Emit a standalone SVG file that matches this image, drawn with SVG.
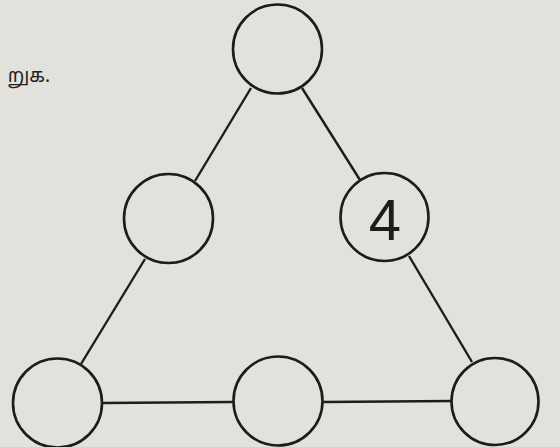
<svg xmlns="http://www.w3.org/2000/svg" width="560" height="447" viewBox="0 0 560 447">
<style>
.n{fill:none;stroke:#1c1c1c;stroke-width:2.6}
.c line{stroke:#1c1c1c;stroke-width:2.4}
.lbl{font-family:"Liberation Sans","DejaVu Sans",sans-serif;font-size:58px;fill:#1c1c1c}
.t{font-family:"Noto Sans Tamil","Noto Sans","DejaVu Sans",sans-serif;font-size:19px;fill:#222}
</style>
<rect width="560" height="447" fill="#e3e1dc"/>
<text class="t" x="50" y="82" text-anchor="end">றுக.</text>
<g id="connectors" class="c">
<line x1="251" y1="88" x2="195" y2="181"/>
<line x1="145" y1="259" x2="81" y2="364"/>
<line x1="302" y1="88" x2="360" y2="180"/>
<line x1="409" y1="256" x2="472" y2="362"/>
<line x1="102" y1="403" x2="233" y2="402"/>
<line x1="323" y1="402" x2="452" y2="401"/>
</g>
<g id="top"><circle class="n" cx="277.5" cy="49" r="44.5"/></g>
<g id="midLeft"><circle class="n" cx="168.5" cy="218.5" r="44.5"/></g>
<g id="midRight"><circle class="n" cx="384.5" cy="217" r="44"/><text class="lbl" x="385" y="240" text-anchor="middle">4</text></g>
<g id="bottomLeft"><circle class="n" cx="57.5" cy="403" r="44.5"/></g>
<g id="bottomMid"><circle class="n" cx="278" cy="401" r="44.5"/></g>
<g id="bottomRight"><circle class="n" cx="495" cy="401.5" r="43.5"/></g>
</svg>
